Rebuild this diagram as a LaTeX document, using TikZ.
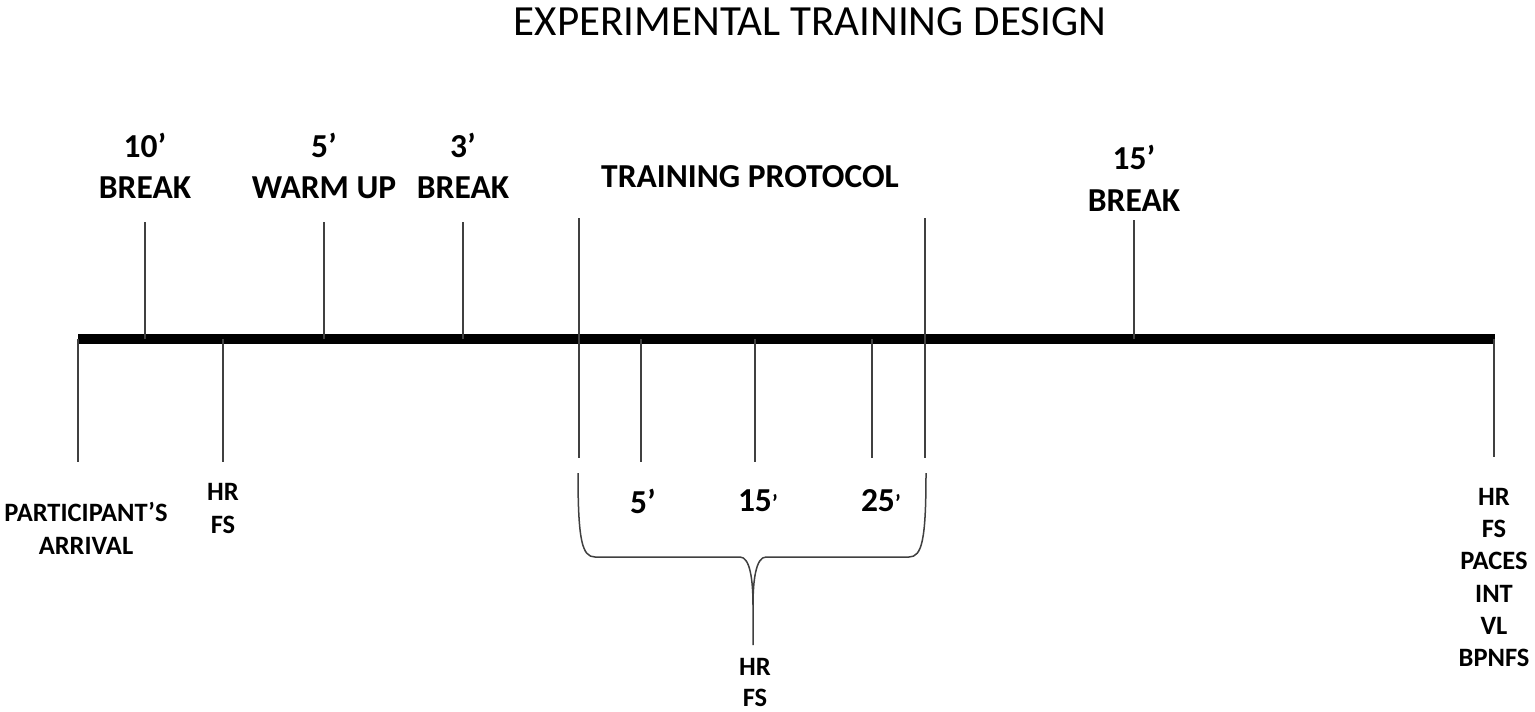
\documentclass[tikz,border=0pt]{standalone}
\usepackage{fontspec}
\setmainfont{Carlito}
\begin{document}
\begin{tikzpicture}[x=1pt,y=-1pt,
  tickline/.style={line width=1.5pt, draw=black!75},
  mainline/.style={line width=10.5pt, draw=black},
  biglab/.style={font=\fontsize{33.5}{41}\selectfont\bfseries, inner sep=0pt, align=center},
  smalllab/.style={font=\fontsize{26.5}{32.5}\selectfont\bfseries, inner sep=0pt, align=center},
  bracestyle/.style={line width=1.5pt, draw=black!75}]
\useasboundingbox (0,0) rectangle (1535,712);
\fill[white] (0,0) rectangle (1535,712);

% title
\node[inner sep=0pt, font=\fontsize{43}{50}\selectfont] (title) at (810,22) {EXPERIMENTAL TRAINING DESIGN};

% main line
\coordinate (L) at (78,339);
\coordinate (R) at (1495,339);
\draw[mainline] (L) -- (R);

% upper ticks
\foreach \n/\x/\t in {a/145/222, b/324/222, c/463/222, d/579/218, e/925/218, f/1134/220}{
  \coordinate (u\n) at (\x,\t);
  \coordinate (m\n) at (\x,339);
  \draw[tickline] (m\n) -- (u\n);
}
% lower ticks
\foreach \n/\x/\b in {g/78/462, h/223/462, d/579/458, i/641/462, j/755/462, k/872/458, e/925/458, l/1494/457}{
  \coordinate (lo\n) at (\x,\b);
  \coordinate (lm\n) at (\x,339);
  \draw[tickline] (lm\n) -- (lo\n);
}

% upper labels
\node[biglab] (t1) at (145,166) {10’\\BREAK};
\node[biglab] (t2) at (324,166) {5’\\WARM UP};
\node[biglab] (t3) at (463,166) {3’\\BREAK};
\node[biglab] (t4) at (750,177) {TRAINING PROTOCOL};
\node[biglab, font=\fontsize{33.5}{42}\selectfont\bfseries] (t5) at (1134,178) {15’\\BREAK};

% lower labels
\node[smalllab] (b1) at (86,528.5) {PARTICIPANT’S\\ARRIVAL};
\node[smalllab] (b2) at (223,508.5) {HR\\FS};
\node[biglab] (b3) at (643,501) {5’};
\node[biglab] (b4) at (758,501) {15\scalebox{0.7}{’}};
\node[biglab] (b5) at (881,501) {25\scalebox{0.7}{’}};
\node[smalllab, font=\fontsize{26.5}{31}\selectfont\bfseries] (b6) at (755,682.5) {HR\\FS};
\node[smalllab, font=\fontsize{26.5}{32.2}\selectfont\bfseries] (b7) at (1494,577.5) {HR\\FS\\PACES\\INT\\VL\\BPNFS};

% brace
\coordinate (bl) at (578,473);
\coordinate (br) at (926,473);
\coordinate (btip) at (753,645);
\draw[bracestyle] (bl) .. controls (578,540) and (582,557) .. (595,557)
  -- (740,557) .. controls (750,557) and (753,580) .. (753,605) -- (btip);
\draw[bracestyle] (br) .. controls (926,540) and (922,557) .. (909,557)
  -- (766,557) .. controls (756,557) and (753,580) .. (753,605);
\end{tikzpicture}
\end{document}
